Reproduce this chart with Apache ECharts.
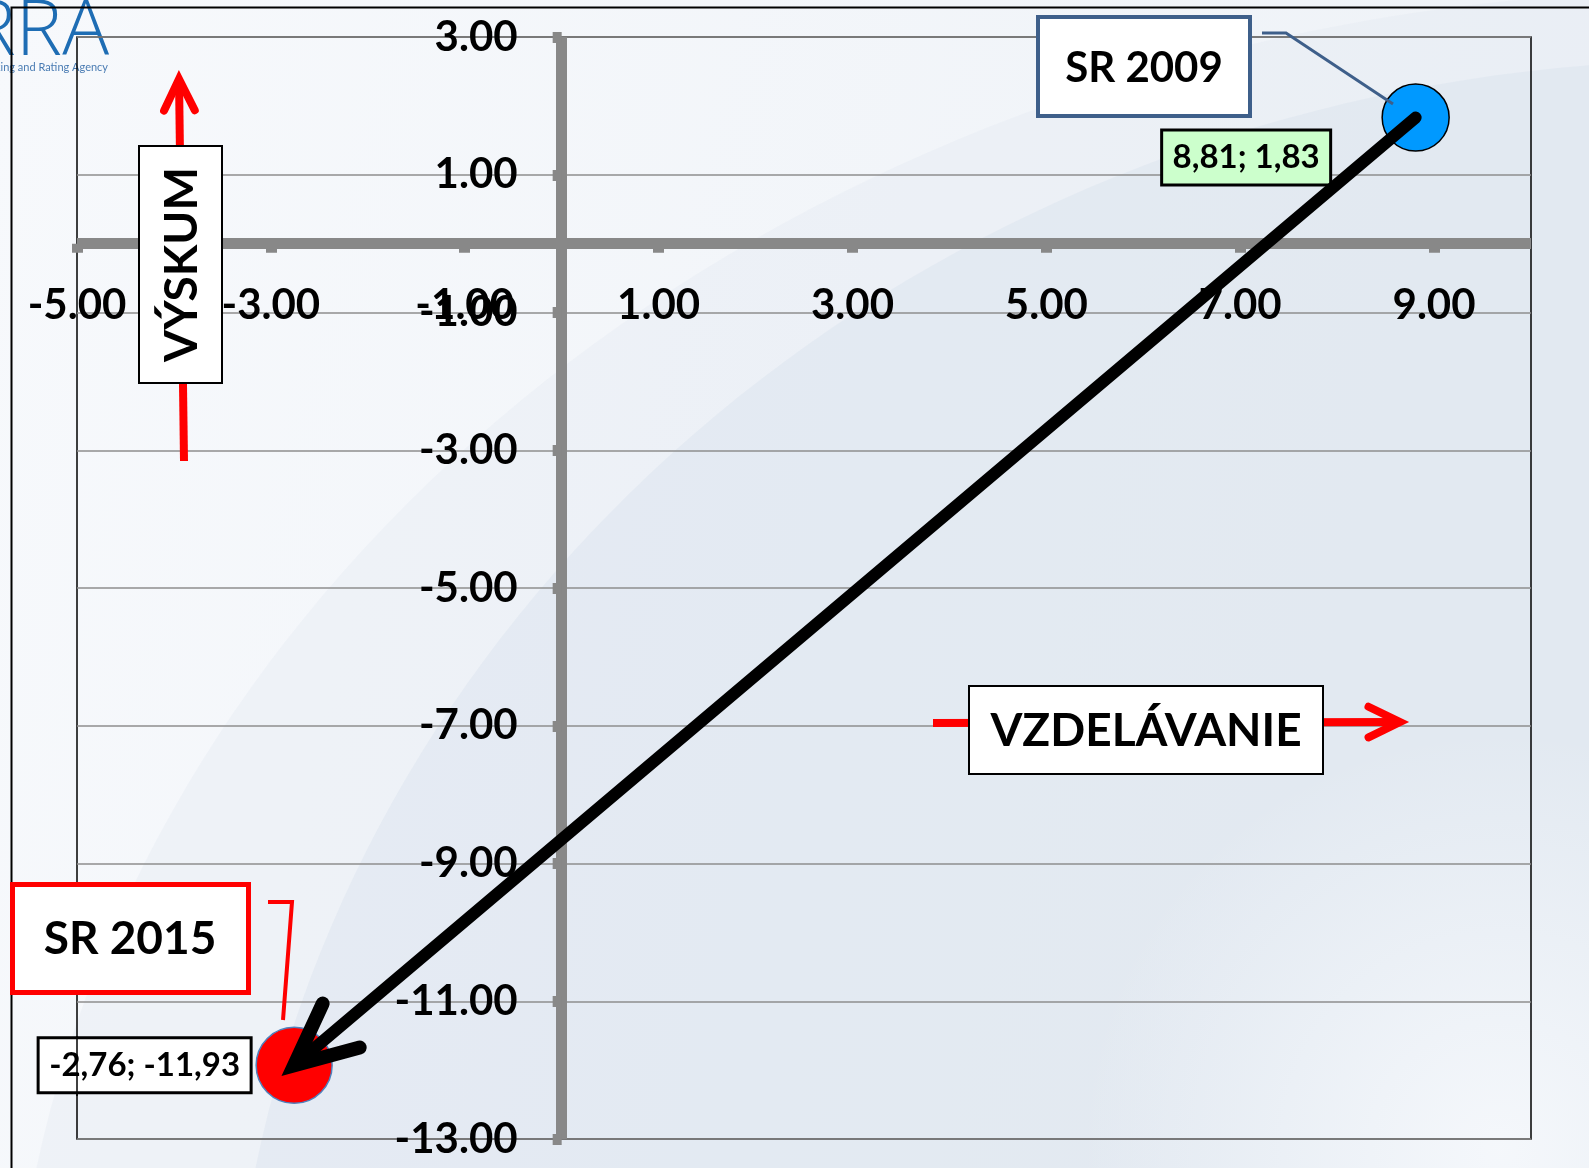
<!DOCTYPE html>
<html>
<head>
<meta charset="utf-8">
<script src="https://cdn.jsdelivr.net/npm/echarts@6/dist/echarts.min.js"></script>
<style>
html,body{margin:0;padding:0;background:#f6f8fb;}
#chart{width:1589px;height:1168px;}
</style>
</head>
<body>
<div id="chart"></div>
<script>
// ---- data ----
const pointNames = ['SR 2009', 'SR 2015'];
const xValues = [8.81, -2.76];
const yValues = [1.83, -11.93];
const xTicks = [-5, -3, -1, 1, 3, 5, 7, 9];
const yTicks = [3, 1, -1, -3, -5, -7, -9, -11, -13];
const axisTitles = ['VÝSKUM', 'VZDELÁVANIE'];
const logoText = ['ARRA', 'Academic Ranking and Rating Agency'];

const X_MIN = -5, X_MAX = 10, Y_MIN = -13, Y_MAX = 3;
const G = {left: 77, top: 37, width: 1454, height: 1102};
// axes cross at zero: offset the axis lines inward from the grid edges
const xAxisOffset = -(G.height * (0 - Y_MIN) / (Y_MAX - Y_MIN));
const yAxisOffset = -(G.width * (0 - X_MIN) / (X_MAX - X_MIN));

const FONT = 'Lato, "Open Sans", sans-serif';
const fmtTick = v => v.toFixed(2);
const fmtComma = v => v.toFixed(2).replace('.', ',');

const chart = echarts.init(document.getElementById('chart'), null, {renderer: 'canvas'});

const axisLineStyle = {color: '#888888', width: 11, cap: 'butt'};
const tickLineStyle = {color: '#888888', width: 11, cap: 'butt'};
const labelStyle = {fontFamily: FONT, fontWeight: 'bold', fontSize: 42, color: '#000'};

function arrowRender(params, api) {
  const p1 = api.coord([api.value(0), api.value(1)]);
  const p2 = api.coord([api.value(2), api.value(3)]);
  const dx = p1[0] - p2[0], dy = p1[1] - p2[1];
  const len = Math.sqrt(dx * dx + dy * dy);
  const ux = dx / len, uy = dy / len;
  const ang = Math.atan2(uy, ux);
  const wl = 68, wa = 25 * Math.PI / 180;
  const w1 = [p2[0] + wl * Math.cos(ang - wa), p2[1] + wl * Math.sin(ang - wa)];
  const w2 = [p2[0] + wl * Math.cos(ang + wa), p2[1] + wl * Math.sin(ang + wa)];
  const end = [p2[0] + ux * 12, p2[1] + uy * 12];
  return {
    type: 'group',
    children: [
      {type: 'line', shape: {x1: p1[0], y1: p1[1], x2: end[0], y2: end[1]},
       style: {stroke: '#000', lineWidth: 12, lineCap: 'round'}},
      {type: 'polyline', shape: {points: [w1, p2, w2]},
       style: {stroke: '#000', lineWidth: 14, lineCap: 'round', lineJoin: 'miter', fill: null}}
    ]
  };
}

function redArrow(x1, y1, x2, y2, z) {
  const ang = Math.atan2(y1 - y2, x1 - x2);
  const wl = 35, wa = 26 * Math.PI / 180;
  return [
    {type: 'line', z: z, shape: {x1: x1, y1: y1, x2: x2, y2: y2},
     style: {stroke: '#ff0000', lineWidth: 8, lineCap: 'butt'}},
    {type: 'polyline', z: z, shape: {points: [
      [x2 + wl * Math.cos(ang - wa), y2 + wl * Math.sin(ang - wa)],
      [x2, y2],
      [x2 + wl * Math.cos(ang + wa), y2 + wl * Math.sin(ang + wa)]
    ]}, style: {stroke: '#ff0000', lineWidth: 8, lineCap: 'round', lineJoin: 'miter', fill: null}}
  ];
}

const graphics = [
  // background swoosh
  {type: 'rect', z: -20, shape: {x: 0, y: 0, width: 1589, height: 1168},
   style: {fill: new echarts.graphic.LinearGradient(0, 0, 1, 0.3, [
     {offset: 0, color: '#f7f9fc'}, {offset: 1, color: '#eef2f7'}])}},
  {type: 'ellipse', z: -19, shape: {cx: 1720, cy: 1420, rx: 1710, ry: 1430},
   style: {fill: 'rgba(226,232,241,0.35)'}},
  {type: 'ellipse', z: -18, shape: {cx: 1720, cy: 1420, rx: 1490, ry: 1360},
   style: {fill: 'rgba(218,226,237,0.45)'}},
  {type: 'ellipse', z: -17, shape: {cx: 1500, cy: 1150, rx: 560, ry: 420},
   style: {fill: new echarts.graphic.RadialGradient(0.5, 0.5, 0.5, [
     {offset: 0, color: 'rgba(248,250,253,0.85)'}, {offset: 1, color: 'rgba(248,250,253,0)'}])}},
  // logo
  {type: 'text', z: -5, style: {text: logoText[0], x: 109, y: -6, align: 'right', verticalAlign: 'top',
    fontFamily: '"Open Sans", "DejaVu Sans", sans-serif', fontWeight: 300, fontSize: 78, fill: '#1e6db4'}},
  {type: 'text', z: -5, style: {text: logoText[1], x: 108, y: 67, align: 'right', verticalAlign: 'middle',
    fontFamily: FONT, fontSize: 11, fill: '#4a7cb3'}},
  // outer frame
  {type: 'polyline', z: 40, shape: {points: [[11.5, 1168], [11.5, 7.5], [1589, 7.5]]},
   style: {stroke: '#000', lineWidth: 2, fill: null}},
  // VYSKUM arrow + box
  ...redArrow(184, 461, 179, 79, 90),
  {type: 'rect', z: 100, shape: {x: 139, y: 146, width: 83, height: 237},
   style: {fill: '#fff', stroke: '#000', lineWidth: 2}},
  {type: 'text', z: 101, x: 182, y: 264.5, rotation: Math.PI / 2,
   style: {text: axisTitles[0], x: 0, y: 0, align: 'center', verticalAlign: 'middle',
     fontFamily: FONT, fontWeight: 'bold', fontSize: 46, fill: '#000'}},
  // VZDELAVANIE arrow + box
  ...redArrow(933, 723, 1400, 722, 90),
  {type: 'rect', z: 100, shape: {x: 969, y: 686, width: 354, height: 88},
   style: {fill: '#fff', stroke: '#000', lineWidth: 2}},
  {type: 'text', z: 101, style: {text: axisTitles[1], x: 1146, y: 731, align: 'center', verticalAlign: 'middle',
     fontFamily: FONT, fontWeight: 'bold', fontSize: 46, fill: '#000'}},
  // SR 2009 callout
  {type: 'polyline', z: 95, shape: {points: [[1262, 33], [1286, 33], [1393, 104]]},
   style: {stroke: '#3e5f8a', lineWidth: 3, fill: null}},
  {type: 'rect', z: 100, shape: {x: 1038, y: 17, width: 212, height: 99},
   style: {fill: '#fff', stroke: '#3e5f8a', lineWidth: 4}},
  {type: 'text', z: 101, style: {text: pointNames[0], x: 1144, y: 68, align: 'center', verticalAlign: 'middle',
     fontFamily: FONT, fontWeight: 'bold', fontSize: 42, fill: '#000'}},
  // SR 2015 callout
  {type: 'polyline', z: 95, shape: {points: [[268, 902], [292, 902], [283, 1020]]},
   style: {stroke: '#ff0000', lineWidth: 4, fill: null}},
  {type: 'rect', z: 100, shape: {x: 12.5, y: 884.5, width: 236, height: 108},
   style: {fill: '#fff', stroke: '#ff0000', lineWidth: 5}},
  {type: 'text', z: 101, style: {text: pointNames[1], x: 130, y: 939, align: 'center', verticalAlign: 'middle',
     fontFamily: FONT, fontWeight: 'bold', fontSize: 46, fill: '#000'}},
  // plot border passes over the lower value label
  {type: 'line', z: 100, shape: {x1: G.left, y1: 1036, x2: G.left, y2: 1096},
   style: {stroke: '#000', lineWidth: 1.5}}
];

const option = {
  animation: false,
  backgroundColor: '#f6f8fb',
  grid: Object.assign({show: true, borderColor: '#000', borderWidth: 1.5,
         backgroundColor: 'transparent', containLabel: false, outerBoundsMode: 'none'}, G),
  xAxis: {
    type: 'value', min: X_MIN, max: X_MAX, interval: 2, position: 'bottom', offset: xAxisOffset,
    axisLine: {onZero: false, lineStyle: axisLineStyle},
    axisTick: {show: true, length: 9, customValues: xTicks, lineStyle: tickLineStyle},
    axisLabel: Object.assign({customValues: xTicks, margin: 41, formatter: fmtTick,
      showMinLabel: true, showMaxLabel: true, hideOverlap: false}, labelStyle),
    splitLine: {show: false}
  },
  yAxis: {
    type: 'value', min: Y_MIN, max: Y_MAX, interval: 2, position: 'left', offset: yAxisOffset,
    axisLine: {onZero: false, lineStyle: axisLineStyle},
    axisTick: {show: true, length: 9, customValues: yTicks, lineStyle: tickLineStyle},
    axisLabel: Object.assign({customValues: yTicks, margin: 44, formatter: fmtTick,
      showMinLabel: true, showMaxLabel: true, hideOverlap: false}, labelStyle),
    splitLine: {show: true, lineStyle: {color: '#8e8e8e', width: 1.5}}
  },
  graphic: {elements: graphics},
  series: [
    {
      type: 'scatter', z: 3,
      itemStyle: {opacity: 1},
      data: [
        {name: pointNames[0], value: [xValues[0], yValues[0]], symbolSize: 67,
         itemStyle: {color: '#0099ff', borderColor: '#000', borderWidth: 1.5, opacity: 1},
         label: {offset: [-169.5, 40], backgroundColor: '#ccffcc', width: 142, padding: [9, 12]}},
        {name: pointNames[1], value: [xValues[1], yValues[1]], symbolSize: 76,
         itemStyle: {color: '#ff0000', borderColor: '#4f81bd', borderWidth: 1.5, opacity: 1},
         label: {offset: [-149.5, 0], backgroundColor: '#ffffff', width: 188, padding: [9, 11]}}
      ],
      label: {
        show: true, position: 'inside', formatter: p => fmtComma(p.value[0]) + '; ' + fmtComma(p.value[1]),
        fontFamily: FONT, fontWeight: 'bold', fontSize: 33, lineHeight: 34, color: '#000', opacity: 1,
        textBorderWidth: 0, align: 'center', borderColor: '#000', borderWidth: 3
      },
      emphasis: {disabled: true}
    },
    {
      type: 'custom', z: 5,
      renderItem: arrowRender,
      data: [[xValues[0], yValues[0], xValues[1], yValues[1]]]
    }
  ]
};
chart.setOption(option);
</script>
</body>
</html>
